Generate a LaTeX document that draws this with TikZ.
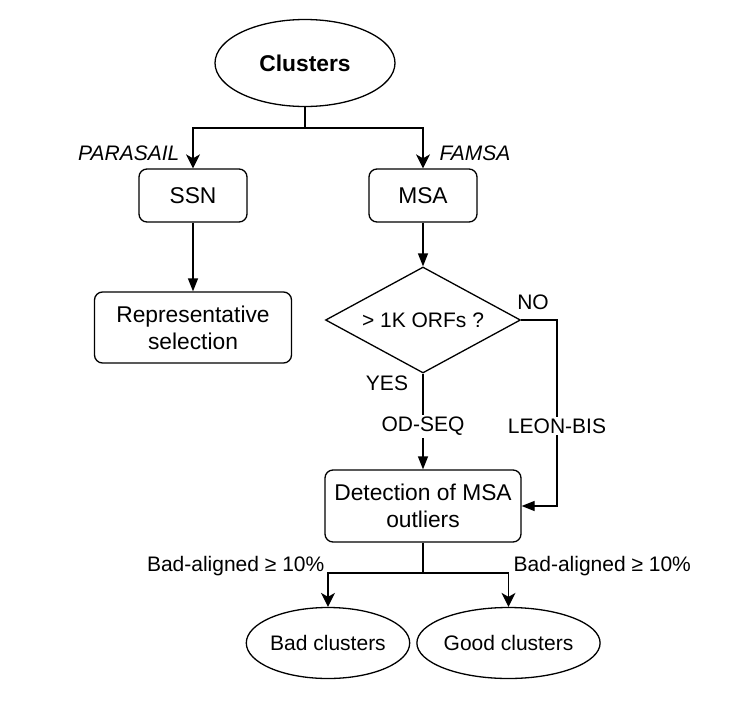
\documentclass[tikz,border=0pt]{standalone}
\usepackage{fontspec}
\setmainfont{Liberation Sans}
\usepackage{tikz}
\usetikzlibrary{arrows.meta, shapes.geometric}
\newcommand{\boxfont}{\fontsize{22.8}{27}\selectfont}
\newcommand{\lblfont}{\fontsize{21}{25}\selectfont}

\begin{document}
\begin{tikzpicture}[x=1pt, y=-1pt, line width=1.3pt, font=\lblfont,
		box/.style={draw, rounded corners=8pt, align=center, inner sep=0pt, font=\boxfont},
		oval/.style={draw, ellipse, inner sep=0pt},
		lbl/.style={inner sep=2pt},
		arr/.style={-{Triangle[length=13pt, width=10pt]}},
		forkarr/.style={-{Stealth[length=14pt, width=14pt, inset=4pt]}}]
		\useasboundingbox (0,0) rectangle (753,713);
		
		\node [oval, minimum width=180, minimum height=87, font=\boxfont\bfseries] (clusters) at (305,63) {Clusters};
		\node [box, minimum width=108, minimum height=53] (ssn) at (193,195.5) {SSN};
		\node [box, minimum width=108, minimum height=53] (msa) at (423,195.5) {MSA};
		\node [box, minimum width=197, minimum height=71] (rep) at (193,327.5) {Representative\\selection};
		\node [draw, diamond, aspect=1.84, inner sep=0pt, minimum width=195, minimum height=106] (orfs) at (423,320) {> 1K ORFs ?};
		\node [box, minimum width=196, minimum height=72] (detect) at (423,506) {Detection of MSA\\outliers};
		\node [oval, minimum width=162, minimum height=71] (bad) at (328,643) {Bad clusters};
		\node [oval, minimum width=161, minimum height=71] (good) at (508.5,643) {Good clusters};
		
		\coordinate (split) at (305,128);
		\coordinate (noturn) at (557,320);
		\coordinate (noend) at (557,506);
		\coordinate (fork) at (423,573);
		
		\draw (clusters) -- (split);
		\foreach \n in {ssn,msa}{
			\draw [forkarr] (split) -| (\n);
		}
		\draw [arr] (ssn) -- (rep);
		\draw [arr] (msa) -- (orfs);
		\draw [arr] (orfs) -- node [lbl, fill=white, pos=0.55] (odseq) {OD-SEQ} (detect);
		\draw [arr] (orfs.east) -- (noturn) -- node [lbl, fill=white, pos=0.57] (leonbis) {LEON-BIS} (noend) -- (detect.east);
		\draw (detect) -- (fork);
		\foreach \n in {bad,good}{
			\draw [forkarr] (fork) -| (\n);
		}
		
		\node [lbl, anchor=east, font=\lblfont\itshape] (parasail) at (182,153) {PARASAIL};
		\node [lbl, anchor=west, font=\lblfont\itshape] (famsa) at (437,153) {FAMSA};
		\node [lbl] (no) at (533,302) {NO};
		\node [lbl] (yes) at (387,383) {YES};
		\node [lbl, anchor=east] (badlbl) at (327,566) {Bad-aligned ≥ 10\%};
		\node [lbl, anchor=west] (goodlbl) at (511,566) {Bad-aligned ≥ 10\%};
	\end{tikzpicture}
\end{document}
